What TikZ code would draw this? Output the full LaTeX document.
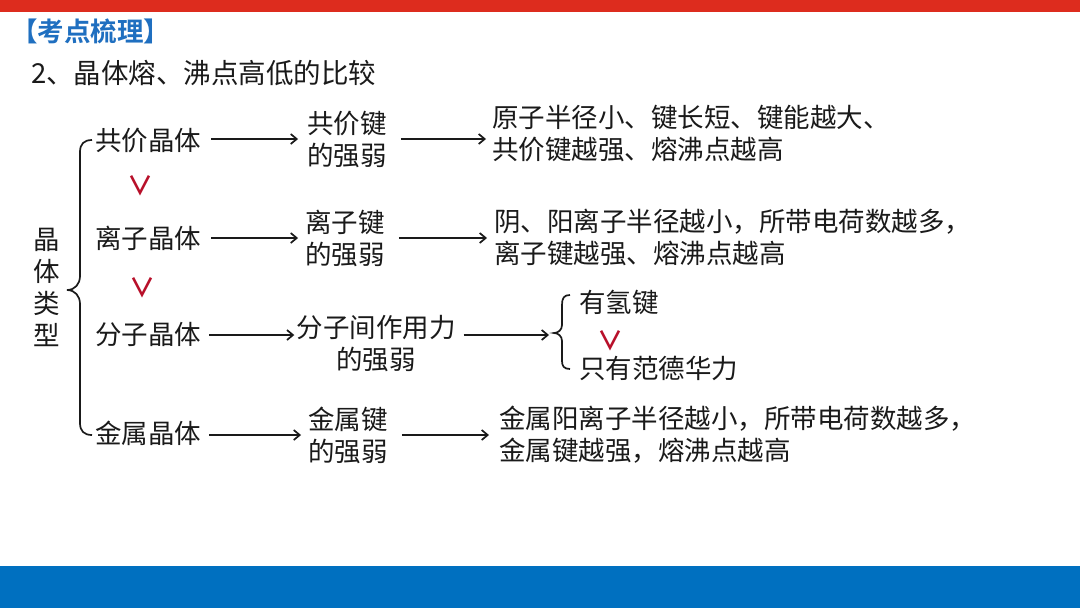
\documentclass[tikz,border=0pt]{standalone}
\usepackage{fontspec}
\setmainfont{Noto Sans CJK SC}[BoldFont={Noto Sans CJK SC Bold}]
\usetikzlibrary{arrows.meta}
\definecolor{topred}{HTML}{DD2C1E}
\definecolor{botblue}{HTML}{0070C0}
\definecolor{titleblue}{HTML}{1F6FC0}
\definecolor{gtred}{HTML}{B8102A}
\definecolor{ink}{HTML}{1A1A1A}
\begin{document}
\begin{tikzpicture}[x=1pt,y=-1pt,
  txt/.style={font=\fontsize{26.5}{32}\selectfont, inner sep=0pt, text=ink},
  mid/.style={txt, align=center},
  rt/.style={txt, align=left, anchor=west},
  arr/.style={-{Straight Barb[length=6pt,width=10pt]}, line width=1.7pt, draw=ink},
  brc/.style={line width=1.7pt, draw=ink},
  gt/.style={text=gtred, inner sep=0pt, font=\fontsize{26}{26}\selectfont\bfseries}]
\fill[white] (0,0) rectangle (1080,608);
\useasboundingbox (0,0) rectangle (1080,608);
\fill[topred] (0,0) rectangle (1080,12);
\fill[botblue] (0,566) rectangle (1080,608);

\node[anchor=west, inner sep=0pt, text=titleblue, font=\fontsize{26.5}{28}\selectfont\bfseries] (t1) at (11,31) {【考点梳理】};
\node[anchor=west, inner sep=0pt, text=ink, font=\fontsize{27.5}{30}\selectfont] (t2) at (31,73) {2、晶体熔、沸点高低的比较};

\node[mid] (lt) at (47,287) {晶\\体\\类\\型};

\draw[brc] (92,140) .. controls (84,140) and (80,144) .. (80,152) -- (80,276)
  .. controls (80,284) and (75,290) .. (67,290)
  .. controls (75,290) and (80,296) .. (80,304) -- (80,423)
  .. controls (80,431) and (84,435) .. (92,435);

\node[txt,anchor=west] (c1) at (95,141) {共价晶体};
\node[txt,anchor=west] (c2) at (95,238) {离子晶体};
\node[txt,anchor=west] (c3) at (95,335) {分子晶体};
\node[txt,anchor=west] (c4) at (95,433) {金属晶体};

\node[gt] (g1) at (140,186) {∨};
\node[gt] (g2) at (142,288) {∨};

\node[mid] (m1) at (347,139) {共价键\\的强弱};
\node[mid] (m2) at (345,238) {离子键\\的强弱};
\node[mid] (m3) at (376,344) {分子间作用力\\的强弱};
\node[mid] (m4) at (348,435) {金属键\\的强弱};

\node[rt] (r1) at (492,133) {原子半径小、键长短、键能越大、\\共价键越强、熔沸点越高};
\node[rt] (r2) at (494,237) {阴、阳离子半径越小，所带电荷数越多，\\离子键越强、熔沸点越高};
\node[rt] (h1) at (579,302) {有氢键};
\node[rt] (h2) at (579,368) {只有范德华力};
\node[gt] (g3) at (610,341) {∨};
\node[rt] (r4) at (499,435) {金属阳离子半径越小，所带电荷数越多，\\金属键越强，熔沸点越高};

\coordinate (bt) at (554,333);
\draw[brc] (570,295) .. controls (564,295) and (562,298) .. (562,305) -- (562,325)
  .. controls (562,330) and (558,333) .. (bt)
  .. controls (558,333) and (562,336) .. (562,341) -- (562,361)
  .. controls (562,366) and (564,369) .. (570,369);

\draw[arr] ([xshift=10pt]c1.east |- m1.west) -- ([xshift=-9pt]m1.west);
\draw[arr] ([xshift=10pt]c2.east |- m2.west) -- ([xshift=-7pt]m2.west);
\draw[arr] ([xshift=8pt]c3.east) -- ([xshift=-2pt]c3.east -| m3.west);
\draw[arr] ([xshift=8pt]c4.east |- m4.west) -- ([xshift=-7pt]m4.west);

\draw[arr] ([xshift=14pt]m1.east) -- ([xshift=-6pt]m1.east -| r1.west);
\draw[arr] ([xshift=14pt]m2.east) -- ([xshift=-7pt]m2.east -| r2.west);
\draw[arr] ([xshift=8pt]m3.east |- c3.east) -- ([xshift=-5pt]c3.east -| bt);
\draw[arr] ([xshift=14pt]m4.east) -- ([xshift=-10pt]m4.east -| r4.west);
\end{tikzpicture}
\end{document}
